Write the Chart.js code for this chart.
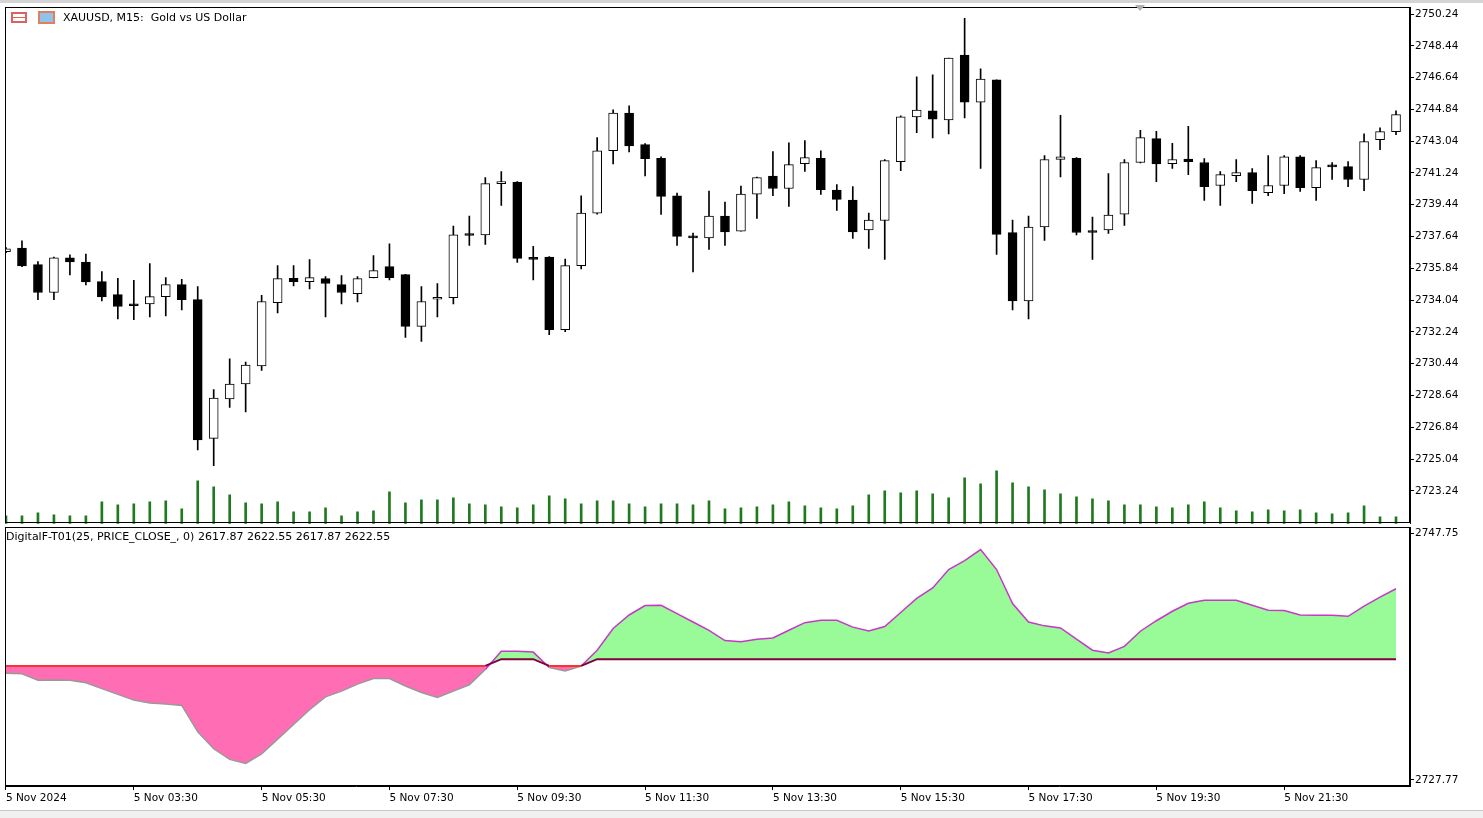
<!DOCTYPE html>
<html>
<head>
<meta charset="utf-8">
<script src="https://cdn.jsdelivr.net/npm/chart.js@4.4.1/dist/chart.umd.min.js"></script>
<style>
  html, body { margin: 0; padding: 0; background: #fff; overflow: hidden; }
  body { width: 1483px; height: 818px; position: relative; font-family: "DejaVu Sans", sans-serif; }
  .pane { position: absolute; left: 0; width: 1483px; }
  #mainPane { top: 0; height: 531px; z-index: 2; pointer-events: none; }
  #indPane { top: 520px; height: 290px; z-index: 1; }
  .label { position: absolute; font-size: 11px; color: #000; white-space: nowrap; z-index: 3; }
  .icon { position: absolute; width: 16px; height: 11px; box-sizing: border-box; z-index: 3; }
  #strip { position: absolute; left: 0; top: 810px; width: 1483px; height: 8px; background: #f0f0f0; border-top: 1px solid #c8c8c8; }
  #topline { position: absolute; left: 0; top: 0; width: 1483px; height: 3px; background: #d4d4d4; }
  #shift { position: absolute; left: 1135px; top: 5px; width: 0; height: 0; z-index: 3;
           border-left: 5px solid transparent; border-right: 5px solid transparent; border-top: 6px solid #b0b0b0; }
</style>
</head>
<body>
<div id="topline"></div>
<div class="pane" id="mainPane"><canvas id="priceChart"></canvas></div>
<div class="pane" id="indPane"><canvas id="indChart"></canvas></div>
<div id="strip"></div>
<div id="shift"></div>
<div class="icon" style="left:11px;top:12px;border:2px solid #e06060;background:linear-gradient(#fff 0 40%,#e06060 40% 60%,#fff 60%);"></div>
<div class="icon" style="left:38px;top:11px;border:2px solid #e08060;background:#8fc3ea;width:17px;height:13px;"></div>
<div class="label" style="left:63px;top:11px;">XAUUSD, M15:&nbsp; Gold vs US Dollar</div>
<div class="label" style="left:6px;top:530px;">DigitalF-T01(25, PRICE_CLOSE_, 0) 2617.87 2622.55 2617.87 2622.55</div>
<script>
// 15-minute candles, 5 Nov 2024, 01:30 .. 23:15
const opens = [
  2736.78, 2736.99, 2736.05, 2734.47, 2736.43, 2736.20, 2735.09, 2734.35, 2733.79, 2733.83,
  2734.24, 2734.92, 2734.07, 2726.21, 2728.44, 2729.29, 2730.31, 2733.90, 2735.27, 2735.09,
  2735.26, 2734.92, 2734.41, 2735.31, 2735.94, 2735.48, 2732.55, 2734.09, 2734.18, 2737.78,
  2737.73, 2740.64, 2740.72, 2736.43, 2736.47, 2732.36, 2735.99, 2738.97, 2742.50, 2744.63,
  2742.84, 2742.07, 2739.94, 2737.67, 2737.56, 2738.80, 2737.95, 2740.04, 2741.06, 2740.36,
  2741.77, 2742.07, 2740.27, 2739.70, 2738.01, 2738.55, 2741.88, 2744.42, 2744.76, 2744.25,
  2747.92, 2745.25, 2746.51, 2737.86, 2734.00, 2738.18, 2742.00, 2742.07, 2737.95, 2738.01,
  2738.91, 2741.83, 2743.18, 2741.77, 2742.02, 2741.83, 2740.53, 2741.09, 2741.26, 2740.13,
  2740.53, 2742.16, 2740.41, 2741.66, 2741.60, 2740.87, 2743.12, 2743.58
];
const highs = [
  2737.01, 2737.39, 2736.22, 2736.47, 2736.60, 2736.65, 2735.65, 2735.27, 2735.16, 2736.11,
  2735.31, 2735.22, 2734.81, 2728.97, 2730.72, 2730.53, 2734.31, 2735.99, 2735.99, 2736.33,
  2735.37, 2735.43, 2735.37, 2736.56, 2737.23, 2735.50, 2734.81, 2734.98, 2738.23, 2738.80,
  2740.98, 2741.32, 2740.75, 2737.08, 2736.50, 2736.37, 2739.94, 2743.24, 2744.82, 2745.04,
  2742.90, 2742.16, 2740.10, 2737.84, 2740.21, 2739.59, 2740.49, 2741.00, 2742.45, 2742.95,
  2743.07, 2742.50, 2740.58, 2740.47, 2738.97, 2742.00, 2744.48, 2746.68, 2746.79, 2747.74,
  2749.99, 2747.13, 2746.51, 2738.57, 2738.80, 2742.22, 2744.50, 2742.11, 2738.74, 2741.20,
  2742.00, 2743.65, 2743.60, 2742.92, 2743.88, 2742.05, 2741.32, 2742.00, 2741.49, 2742.22,
  2742.22, 2742.22, 2741.94, 2741.83, 2741.88, 2743.46, 2743.80, 2744.76
];
const lows = [
  2736.73, 2735.94, 2734.06, 2734.06, 2735.47, 2734.90, 2734.00, 2732.98, 2732.93, 2733.09,
  2733.15, 2733.49, 2725.56, 2724.66, 2727.97, 2727.71, 2730.06, 2733.32, 2734.85, 2734.68,
  2733.09, 2733.83, 2733.94, 2735.29, 2735.18, 2731.93, 2731.70, 2733.09, 2733.83, 2737.14,
  2737.19, 2739.40, 2736.18, 2735.18, 2732.08, 2732.25, 2735.81, 2738.91, 2741.75, 2742.43,
  2741.07, 2738.89, 2737.14, 2735.64, 2736.91, 2737.14, 2737.94, 2738.66, 2739.96, 2739.34,
  2741.32, 2740.02, 2739.12, 2737.53, 2736.97, 2736.35, 2741.37, 2743.52, 2743.22, 2743.45,
  2744.35, 2741.49, 2736.63, 2733.49, 2732.98, 2737.42, 2741.02, 2737.73, 2736.35, 2737.82,
  2738.27, 2741.81, 2740.74, 2741.49, 2741.15, 2739.68, 2739.40, 2740.75, 2739.51, 2739.96,
  2740.07, 2740.19, 2739.68, 2740.87, 2740.47, 2740.24, 2742.56, 2743.41
];
const closes = [
  2736.95, 2735.97, 2734.47, 2736.43, 2736.20, 2735.07, 2734.22, 2733.68, 2733.72, 2734.24,
  2734.92, 2734.06, 2726.13, 2728.50, 2729.29, 2730.36, 2733.96, 2735.26, 2735.09, 2735.31,
  2734.98, 2734.47, 2735.26, 2735.71, 2735.31, 2732.55, 2733.96, 2734.20, 2737.73, 2737.70,
  2740.64, 2740.75, 2736.40, 2736.35, 2732.36, 2735.99, 2738.97, 2742.50, 2744.63, 2742.77,
  2742.05, 2739.91, 2737.65, 2737.56, 2738.80, 2737.90, 2740.04, 2740.98, 2740.36, 2741.71,
  2742.11, 2740.30, 2739.74, 2737.90, 2738.57, 2741.94, 2744.42, 2744.80, 2744.29, 2747.74,
  2745.25, 2746.55, 2737.76, 2734.00, 2738.18, 2742.00, 2742.15, 2737.87, 2737.87, 2738.85,
  2741.83, 2743.24, 2741.75, 2742.00, 2741.88, 2740.47, 2741.15, 2741.26, 2740.24, 2740.53,
  2742.16, 2740.41, 2741.54, 2741.58, 2740.87, 2743.01, 2743.58, 2744.54
];
const volumes = [
  8, 8, 11, 9, 8, 8, 22, 19, 20, 22,
  23, 15, 43, 37, 29, 21, 20, 22, 12, 12,
  16, 8, 12, 13, 32, 21, 24, 24, 26, 20,
  19, 17, 16, 19, 28, 25, 20, 23, 23, 20,
  17, 20, 20, 19, 23, 15, 16, 17, 19, 22,
  18, 16, 15, 18, 29, 33, 31, 33, 30, 26,
  46, 40, 53, 41, 37, 34, 30, 27, 25, 23,
  19, 19, 17, 16, 19, 22, 16, 13, 12, 14,
  13, 14, 11, 10, 11, 18, 7, 7
];

// DigitalF-T01 indicator: main line and its reference level
const dfLine = [
  2736.45, 2736.40, 2735.91, 2735.92, 2735.90, 2735.70, 2735.25, 2734.80, 2734.35, 2734.12,
  2734.05, 2733.93, 2731.87, 2730.55, 2729.72, 2729.40, 2730.15, 2731.30, 2732.45, 2733.60,
  2734.60, 2735.05, 2735.60, 2736.04, 2736.04, 2735.45, 2734.95, 2734.55, 2735.05, 2735.55,
  2736.75, 2738.17, 2738.17, 2738.10, 2736.90, 2736.63, 2737.02, 2738.25, 2739.94, 2741.00,
  2741.74, 2741.76, 2741.10, 2740.45, 2739.80, 2739.00, 2738.90, 2739.10, 2739.21, 2739.81,
  2740.40, 2740.59, 2740.59, 2740.05, 2739.75, 2740.10, 2741.19, 2742.30, 2743.11, 2744.55,
  2745.25, 2746.11, 2744.55, 2741.90, 2740.45, 2740.15, 2739.99, 2739.12, 2738.25, 2738.04,
  2738.55, 2739.73, 2740.55, 2741.29, 2741.92, 2742.15, 2742.15, 2742.15, 2741.76, 2741.37,
  2741.35, 2741.00, 2740.98, 2740.98, 2740.90, 2741.70, 2742.40, 2743.05
];
const dfLevel = [
  2737.02, 2737.02, 2737.02, 2737.02, 2737.02, 2737.02, 2737.02, 2737.02, 2737.02, 2737.02,
  2737.02, 2737.02, 2737.02, 2737.02, 2737.02, 2737.02, 2737.02, 2737.02, 2737.02, 2737.02,
  2737.02, 2737.02, 2737.02, 2737.02, 2737.02, 2737.02, 2737.02, 2737.02, 2737.02, 2737.02,
  2737.02, 2737.55, 2737.55, 2737.55, 2737.02, 2737.02, 2737.02, 2737.55, 2737.55, 2737.55,
  2737.55, 2737.55, 2737.55, 2737.55, 2737.55, 2737.55, 2737.55, 2737.55, 2737.55, 2737.55,
  2737.55, 2737.55, 2737.55, 2737.55, 2737.55, 2737.55, 2737.55, 2737.55, 2737.55, 2737.55,
  2737.55, 2737.55, 2737.55, 2737.55, 2737.55, 2737.55, 2737.55, 2737.55, 2737.55, 2737.55,
  2737.55, 2737.55, 2737.55, 2737.55, 2737.55, 2737.55, 2737.55, 2737.55, 2737.55, 2737.55,
  2737.55, 2737.55, 2737.55, 2737.55, 2737.55, 2737.55, 2737.55, 2737.55
];

// axis labels
const timeTickIdx = [0, 8, 16, 24, 32, 40, 48, 56, 64, 72, 80];
const timeTickLabels = ['5 Nov 2024', '5 Nov 03:30', '5 Nov 05:30', '5 Nov 07:30', '5 Nov 09:30',
  '5 Nov 11:30', '5 Nov 13:30', '5 Nov 15:30', '5 Nov 17:30', '5 Nov 19:30', '5 Nov 21:30'];
const priceTicks = [2750.24, 2748.44, 2746.64, 2744.84, 2743.04, 2741.24, 2739.44, 2737.64,
  2735.84, 2734.04, 2732.24, 2730.44, 2728.64, 2726.84, 2725.04, 2723.24];
const indTickLabels = ['2747.75', '2727.77'];

const FONT = { family: '"DejaVu Sans", sans-serif', size: 10.5 };
const X_MIN = -0.0625, X_MAX = 87.875;
const VOL_SCALE = 518; // volume axis max, so the pane height maps 1:1

Chart.defaults.animation = false;
Chart.defaults.devicePixelRatio = 1;
Chart.defaults.color = '#000';
Chart.defaults.font.family = FONT.family;

const framePlugin = {
  id: 'frame',
  afterDraw(chart) {
    const { ctx, chartArea: a } = chart;
    ctx.save();
    ctx.strokeStyle = '#000';
    ctx.lineWidth = 1;
    ctx.strokeRect(Math.round(a.left) + 0.5, Math.round(a.top) + 0.5,
      Math.round(a.right - a.left) - 1, Math.round(a.bottom - a.top) - 1);
    ctx.restore();
  }
};

const idx = opens.map((_, i) => i);
const wickData = idx.map(i => ({ x: i, y: [lows[i], highs[i]] }));
const bodyData = idx.map(i => ({ x: i, y: [opens[i], closes[i]] }));
const bodyColors = idx.map(i => closes[i] >= opens[i] ? '#ffffff' : '#000000');
const volData = idx.map(i => ({ x: i, y: volumes[i] }));

new Chart(document.getElementById('priceChart'), {
  type: 'bar',
  data: {
    datasets: [
      { data: volData, yAxisID: 'yv', backgroundColor: '#1f7a1f', barThickness: 2, grouped: false, order: 3 },
      { data: wickData, yAxisID: 'y', backgroundColor: '#000', barThickness: 1, grouped: false, order: 2 },
      { data: bodyData, yAxisID: 'y', backgroundColor: bodyColors, borderColor: '#000', borderWidth: 1,
        borderSkipped: false, barThickness: 9, minBarLength: 2, grouped: false, order: 1 }
    ]
  },
  options: {
    responsive: true,
    maintainAspectRatio: false,
    layout: { padding: { left: 5, top: 0, bottom: 0, right: 0 } },
    plugins: { legend: { display: false }, tooltip: { enabled: false } },
    scales: {
      x: { type: 'linear', min: X_MIN, max: X_MAX, offset: false, display: false },
      yv: { display: false, min: 0, max: VOL_SCALE },
      y: {
        position: 'right',
        min: 2721.38, max: 2750.62,
        afterBuildTicks: (s) => { s.ticks = priceTicks.map(v => ({ value: v })); },
        afterFit: (s) => { s.width = 73; },
        grid: { drawOnChartArea: false, drawTicks: true, tickLength: 4, color: '#000' },
        border: { display: true, color: '#000' },
        ticks: { font: FONT, color: '#000', padding: 1, callback: (v) => v.toFixed(2) }
      }
    }
  },
  plugins: [framePlugin]
});

const lvlAt = (i) => dfLevel[i];
const upSeg = (c) => dfLine[c.p0DataIndex] + dfLine[c.p1DataIndex] >= lvlAt(c.p0DataIndex) + lvlAt(c.p1DataIndex);

new Chart(document.getElementById('indChart'), {
  type: 'line',
  data: {
    datasets: [
      { data: idx.map(i => ({ x: i, y: dfLevel[i] })), borderWidth: 2, pointRadius: 0, order: 0,
        borderColor: '#800040',
        segment: { borderColor: (c) => upSeg(c) ? '#800040' : '#ff3030' } },
      { data: idx.map(i => ({ x: i, y: dfLine[i] })), borderWidth: 1.5, pointRadius: 0, order: 1,
        borderColor: '#c838c8',
        fill: { target: 0, above: '#98fb98', below: '#ff6eb4' },
        segment: { borderColor: (c) => upSeg(c) ? '#c838c8' : '#999999' } }
    ]
  },
  options: {
    responsive: true,
    maintainAspectRatio: false,
    layout: { padding: { left: 5, top: 0, bottom: 0, right: 0 } },
    plugins: { legend: { display: false }, tooltip: { enabled: false } },
    scales: {
      x: {
        type: 'linear', min: X_MIN, max: X_MAX,
        afterBuildTicks: (s) => { s.ticks = timeTickIdx.map(v => ({ value: v })); },
        afterFit: (s) => { s.height = 24; },
        grid: { drawOnChartArea: false, drawTicks: true, tickLength: 4, color: '#000' },
        border: { display: true, color: '#000' },
        ticks: { font: FONT, color: '#000', align: 'start', padding: 2, maxRotation: 0,
          callback: (v) => timeTickLabels[timeTickIdx.indexOf(v)] }
      },
      y: {
        position: 'right',
        min: 2727.64, max: 2747.85,
        afterBuildTicks: (s) => { s.ticks = [{ value: 2747.38 }, { value: 2728.11 }]; },
        afterFit: (s) => { s.width = 73; },
        grid: { drawOnChartArea: false, drawTicks: true, tickLength: 4, color: '#000' },
        border: { display: true, color: '#000' },
        ticks: { font: FONT, color: '#000', padding: 1,
          callback: (v, i) => indTickLabels[i] }
      }
    }
  },
  plugins: [framePlugin]
});
</script>
</body>
</html>
